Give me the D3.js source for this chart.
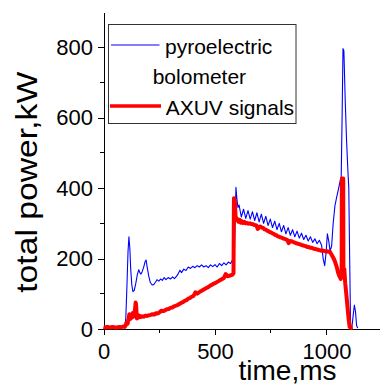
<script src='https://d3js.org/d3.v7.min.js'></script>
<style>
body {margin:0; background:#fff;}
svg text {font-family:'Liberation Sans', Arial, sans-serif; fill:#000;}
.axis path, .axis line {stroke:#000; stroke-width:1; shape-rendering:crispEdges;}
.axis text {font-size:22px;}
</style>
<body>
<svg id='chart' width='380' height='385'></svg>
<script>
// pyroelectric bolometer (blue)
var pyroTime=[0,20,40,60,80,95,100,105,110,114,118,122,127,132,138,145,152,158,163,168,173,180,186,191,196,203,210,218,225,232,240,248,256,264,272,280,290,300,310,318,328,336,343,350,360,370,380,390,400,410,420,430,440,450,460,470,480,490,500,510,520,530,540,550,560,570,578,585,590,594,598,603,608,618,628,638,648,658,668,678,688,698,708,718,728,738,748,758,768,778,788,798,808,818,828,838,848,858,868,878,888,898,908,918,928,938,948,958,968,978,985,992,998,1004,1010,1016,1023,1030,1038,1046,1053,1061,1066,1070,1074,1078,1084,1090,1096,1100,1104,1108,1114,1120,1125,1130,1135,1140];
var pyroPower=[3,4,3,4,4,6,30,120,220,262,230,170,125,106,110,130,155,168,160,156,162,175,190,196,175,150,132,125,126,132,140,136,142,138,146,140,146,142,148,143,150,158,167,160,170,166,176,172,178,174,180,176,182,176,180,174,182,177,183,176,186,180,188,182,190,186,196,188,300,402,370,345,352,318,340,314,336,312,333,308,330,304,326,300,320,294,312,288,306,282,300,276,294,270,288,266,282,262,278,258,272,254,266,250,262,246,256,242,252,238,200,180,215,270,250,222,235,300,350,375,395,420,430,600,796,790,650,536,450,400,200,10,5,40,68,50,10,3];
// AXUV signals (red)
var axuvTime=[0,8,16,24,32,40,48,56,64,72,80,88,95,100,104,108,112,116,119,123,127,131,135,139,142,144,146,148,150,154,158,163,168,174,180,188,196,204,212,220,228,236,244,252,260,268,276,284,292,300,308,316,324,332,340,348,356,364,372,380,388,396,404,412,420,428,436,444,452,460,468,476,484,492,500,508,516,524,532,540,548,556,564,572,578,583,585,589,592,596,600,605,610,615,620,626,632,638,644,650,656,662,668,674,680,686,692,698,704,710,716,722,728,734,740,746,752,758,764,770,776,782,788,794,800,806,812,818,824,830,836,842,848,854,860,866,872,878,884,890,896,902,908,914,920,926,932,938,944,950,956,962,968,974,980,986,992,998,1004,1010,1016,1022,1028,1034,1040,1046,1052,1058,1064,1068,1069,1075,1076,1080,1084,1088,1092,1096,1100,1104,1110,1118];
var axuvPower=[5,4,6,5,4,6,5,4,5,6,5,7,6,11,18,15,27,42,28,38,32,45,35,42,60,75,70,48,30,40,33,37,34,36,35,38,37,39,40,42,41,45,44,48,52,51,53,56,57,60,61,64,66,68,71,74,76,80,82,86,88,92,94,104,100,104,107,110,113,116,118,122,125,128,130,133,136,139,142,145,156,150,151,153,154,158,371,365,322,310,312,305,310,302,306,301,304,300,301,299,300,298,298,296,295,294,284,290,291,288,287,283,282,279,278,275,274,271,270,267,266,263,262,260,259,257,256,254,253,244,250,249,248,246,245,243,242,241,240,238,237,236,235,233,233,231,231,229,228,227,226,225,224,223,222,222,221,220,221,219,219,212,205,198,188,176,160,150,142,150,427,427,155,170,130,105,78,50,25,6,3,4];
var xMajor=[0,500,1000], xMinor=[250,750];
var yMajor=[0,200,400,600,800], yMinor=[100,300,500,700];
var legendLabels=[['pyroelectric','bolometer'],['AXUV signals']];
var seriesColors=['#0000ff','#ff0000'];

var svg=d3.select('#chart');
var x=d3.scaleLinear().domain([0,1240]).range([103.5,380]);
var y=d3.scaleLinear().domain([0,900]).range([329,12]);

// minor ticks
svg.append('g').attr('class','axis').selectAll('line').data(yMinor).enter().append('line')
   .attr('x1',x(0)-3.5).attr('x2',x(0)).attr('y1',function(d){return y(d)}).attr('y2',function(d){return y(d)});
svg.append('g').attr('class','axis').selectAll('line').data(xMinor).enter().append('line')
   .attr('x1',function(d){return x(d)}).attr('x2',function(d){return x(d)}).attr('y1',y(0)).attr('y2',y(0)+3.5);

svg.append('g').attr('class','axis').attr('transform','translate('+x(0)+',0)')
   .call(d3.axisLeft(y).tickValues(yMajor).tickFormat(d3.format('d')).tickSize(6).tickSizeOuter(0).tickPadding(4.5));
svg.append('g').attr('class','axis').attr('transform','translate(0,'+y(0)+')')
   .call(d3.axisBottom(x).tickValues(xMajor).tickFormat(d3.format('d')).tickSize(6).tickSizeOuter(0).tickPadding(8));

var line=d3.line().x(function(d){return x(d[0])}).y(function(d){return y(d[1])});
svg.append('path').datum(d3.zip(pyroTime,pyroPower)).attr('d',line)
   .attr('fill','none').attr('stroke',seriesColors[0]).attr('stroke-width',1.1).attr('stroke-linejoin','round');
svg.append('path').datum(d3.zip(axuvTime,axuvPower)).attr('d',line)
   .attr('fill','none').attr('stroke',seriesColors[1]).attr('stroke-width',4).attr('stroke-linejoin','round');

// axis titles
svg.append('text').attr('x',287.5).attr('y',380).attr('text-anchor','middle')
   .style('font-size','28px').text('time,ms');
svg.append('text').attr('transform','translate(36.5,182.3) rotate(-90)').attr('text-anchor','middle')
   .attr('textLength',221).attr('lengthAdjust','spacingAndGlyphs')
   .style('font-size','30px').text('total power,kW');

// legend
var lg=svg.append('g');
lg.append('rect').attr('x',108.5).attr('y',24.5).attr('width',187.5).attr('height',99)
  .attr('fill','#fff').attr('stroke','#333').attr('stroke-width',1);
lg.append('line').attr('x1',111).attr('x2',159.5).attr('y1',45).attr('y2',45)
  .attr('stroke',seriesColors[0]).attr('stroke-width',1.1);
lg.append('line').attr('x1',110).attr('x2',161).attr('y1',106).attr('y2',106)
  .attr('stroke',seriesColors[1]).attr('stroke-width',3.3);
lg.append('text').attr('x',165).attr('y',53.5).style('font-size','21px').text(legendLabels[0][0]);
lg.append('text').attr('x',152.7).attr('y',83.5).style('font-size','21px').text(legendLabels[0][1]);
lg.append('text').attr('x',165.7).attr('y',114.5).style('font-size','21px').text(legendLabels[1][0]);
</script>
</body>
